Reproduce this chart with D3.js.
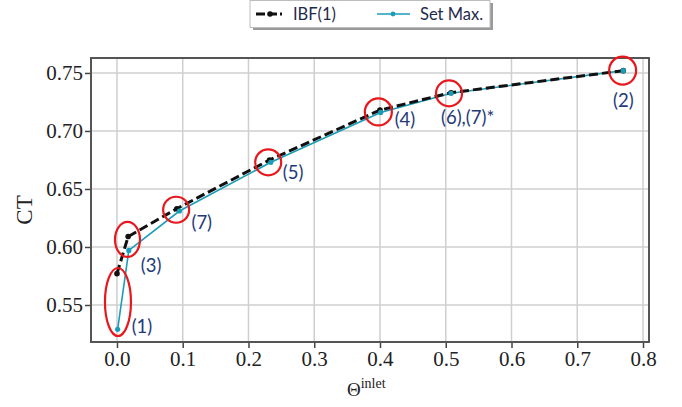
<!DOCTYPE html>
<html>
<head>
<meta charset="utf-8">
<script src="https://cdn.jsdelivr.net/npm/d3@7"></script>
<style>
  html, body { margin: 0; padding: 0; background: #fff; }
  svg { display: block; }
</style>
</head>
<body>
<svg id="chart" width="682" height="407"></svg>
<script>
// ---- data ----
const ibfX    = [0.000, 0.017, 0.091, 0.232, 0.400, 0.508, 0.770];
const ibfY    = [0.577, 0.609, 0.633, 0.675, 0.718, 0.733, 0.752];
const setMaxX = [0.001, 0.018, 0.095, 0.234, 0.401, 0.508, 0.770];
const setMaxY = [0.529, 0.597, 0.631, 0.673, 0.716, 0.7325, 0.752];
const xTicks  = [0.0, 0.1, 0.2, 0.3, 0.4, 0.5, 0.6, 0.7, 0.8];
const yTicks  = [0.55, 0.60, 0.65, 0.70, 0.75];
const annotLabels = ["(1)", "(3)", "(7)", "(5)", "(4)", "(6),(7)*", "(2)"];
const seriesNames = ["IBF(1)", "Set Max."];

// ---- layout ----
const W = 682, H = 407;
const margin = {left: 91, right: 33, top: 58, bottom: 65};
const svg = d3.select("#chart");

const x = d3.scaleLinear().domain([-0.0395, 0.8091]).range([margin.left, W - margin.right]);
const y = d3.scaleLinear().domain([0.5181, 0.7629]).range([H - margin.bottom, margin.top]);

const tealColor = "#1b9cb8";
const labelColor = "#22397a";

// grid
svg.append("g").selectAll("line").data(xTicks).join("line")
  .attr("x1", d => x(d)).attr("x2", d => x(d))
  .attr("y1", margin.top).attr("y2", H - margin.bottom)
  .attr("stroke", "#cfcfcf").attr("stroke-width", 1.5);
svg.append("g").selectAll("line").data(yTicks).join("line")
  .attr("x1", margin.left).attr("x2", W - margin.right)
  .attr("y1", d => y(d)).attr("y2", d => y(d))
  .attr("stroke", "#cfcfcf").attr("stroke-width", 1.5);

// axes
const xAxis = d3.axisBottom(x).tickValues(xTicks).tickFormat(d3.format(".1f")).tickSize(6).tickSizeOuter(0);
const yAxis = d3.axisLeft(y).tickValues(yTicks).tickFormat(d3.format(".2f")).tickSize(6).tickSizeOuter(0);

const gx = svg.append("g").attr("transform", `translate(0,${H - margin.bottom})`).call(xAxis);
const gy = svg.append("g").attr("transform", `translate(${margin.left},0)`).call(yAxis);
[gx, gy].forEach(g => {
  g.select(".domain").remove();
  g.selectAll(".tick line").attr("stroke", "#444").attr("stroke-width", 1.5);
  g.selectAll(".tick text").attr("fill", "#222")
    .style("font-family", "'Liberation Serif', 'DejaVu Serif', serif").style("font-size", "21px");
});
gx.selectAll(".tick text").attr("dy", "0.95em").attr("y", 4);
gy.selectAll(".tick text").attr("x", -8);

// frame
svg.append("rect")
  .attr("x", margin.left).attr("y", margin.top)
  .attr("width", W - margin.left - margin.right).attr("height", H - margin.top - margin.bottom)
  .attr("fill", "none").attr("stroke", "#555").attr("stroke-width", 2);

// axis titles
svg.append("text")
  .attr("transform", `translate(32,${(margin.top + H - margin.bottom) / 2 + 10}) rotate(-90)`)
  .attr("text-anchor", "middle")
  .style("font-family", "'Liberation Serif', 'DejaVu Serif', serif").style("font-size", "23px")
  .attr("fill", "#222").text("CT");

const xt = svg.append("text").attr("x", 347).attr("y", 396)
  .style("font-family", "'Liberation Serif', 'DejaVu Serif', serif").attr("fill", "#222");
xt.append("tspan").style("font-size", "19px").text("Θ");
xt.append("tspan").style("font-size", "14px").attr("dy", -8).text("inlet");

// lines
const ibfData = ibfX.map((d, i) => [d, ibfY[i]]);
const smData = setMaxX.map((d, i) => [d, setMaxY[i]]);
const line = d3.line().x(d => x(d[0])).y(d => y(d[1]));

svg.append("path").datum(smData).attr("d", line)
  .attr("fill", "none").attr("stroke", tealColor).attr("stroke-width", 1.6);
svg.append("path").datum(ibfData).attr("d", line)
  .attr("fill", "none").attr("stroke", "#111").attr("stroke-width", 3)
  .attr("stroke-dasharray", "9,4");
svg.append("g").selectAll("circle").data(ibfData).join("circle")
  .attr("cx", d => x(d[0])).attr("cy", d => y(d[1])).attr("r", 2.8).attr("fill", "#111");
svg.append("g").selectAll("circle").data(smData).join("circle")
  .attr("cx", d => x(d[0])).attr("cy", d => y(d[1])).attr("r", 2.6).attr("fill", tealColor);

// red annotation ellipses (centred on data points, in data coords)
const ellipseX  = [0.0015, 0.016, 0.090, 0.230, 0.3975, 0.505, 0.769];
const ellipseY  = [0.5526, 0.6065, 0.6321, 0.6730, 0.7164, 0.7324, 0.7521];
const ellipseRx = [13, 12.5, 13, 13, 13.5, 13, 13.5];
const ellipseRy = [34, 17.5, 13, 13, 13.5, 13, 14];
svg.append("g").selectAll("ellipse").data(ellipseX).join("ellipse")
  .attr("cx", d => x(d)).attr("cy", (d, i) => y(ellipseY[i]))
  .attr("rx", (d, i) => ellipseRx[i]).attr("ry", (d, i) => ellipseRy[i])
  .attr("fill", "none").attr("stroke", "#e8171c").attr("stroke-width", 2.2);

// annotation labels
const labelDx = [14, 12, 12, 12, 14, -10, 0];
const labelDy = [-3, 15, 12, 10, 7, 24, 30];
const labelAnchor = ["start", "start", "start", "start", "start", "start", "middle"];
svg.append("g").selectAll("text").data(annotLabels).join("text")
  .attr("x", (d, i) => x(setMaxX[i]) + labelDx[i])
  .attr("y", (d, i) => y(setMaxY[i]) + labelDy[i])
  .attr("dy", "0.35em")
  .attr("text-anchor", (d, i) => labelAnchor[i])
  .style("font-family", "Lato, 'Open Sans', sans-serif").style("font-size", "18.5px")
  .attr("fill", labelColor).text(d => d);

// legend
const lg = svg.append("g");
lg.append("rect").attr("x", 253).attr("y", 3).attr("width", 240).attr("height", 27).attr("fill", "#9a9a9a");
lg.append("rect").attr("x", 250).attr("y", 0.5).attr("width", 240).attr("height", 27)
  .attr("fill", "#fff").attr("stroke", "#bdbdbd").attr("stroke-width", 1);
// IBF sample
lg.append("line").attr("x1", 256).attr("x2", 282).attr("y1", 14).attr("y2", 14)
  .attr("stroke", "#111").attr("stroke-width", 3).attr("stroke-dasharray", "9,3");
lg.append("circle").attr("cx", 270).attr("cy", 14).attr("r", 2.8).attr("fill", "#111");
lg.append("text").attr("x", 293).attr("y", 14).attr("dy", "0.35em")
  .style("font-family", "Lato, 'Open Sans', sans-serif").style("font-size", "16.5px")
  .attr("fill", "#1f2b4d").text(seriesNames[0]);
// Set Max sample
lg.append("line").attr("x1", 377).attr("x2", 410).attr("y1", 14).attr("y2", 14)
  .attr("stroke", tealColor).attr("stroke-width", 1.6);
lg.append("circle").attr("cx", 393).attr("cy", 14).attr("r", 2.4).attr("fill", tealColor);
lg.append("text").attr("x", 420).attr("y", 14).attr("dy", "0.35em")
  .style("font-family", "Lato, 'Open Sans', sans-serif").style("font-size", "16.5px")
  .attr("fill", "#1f2b4d").text(seriesNames[1]);
</script>
</body>
</html>
